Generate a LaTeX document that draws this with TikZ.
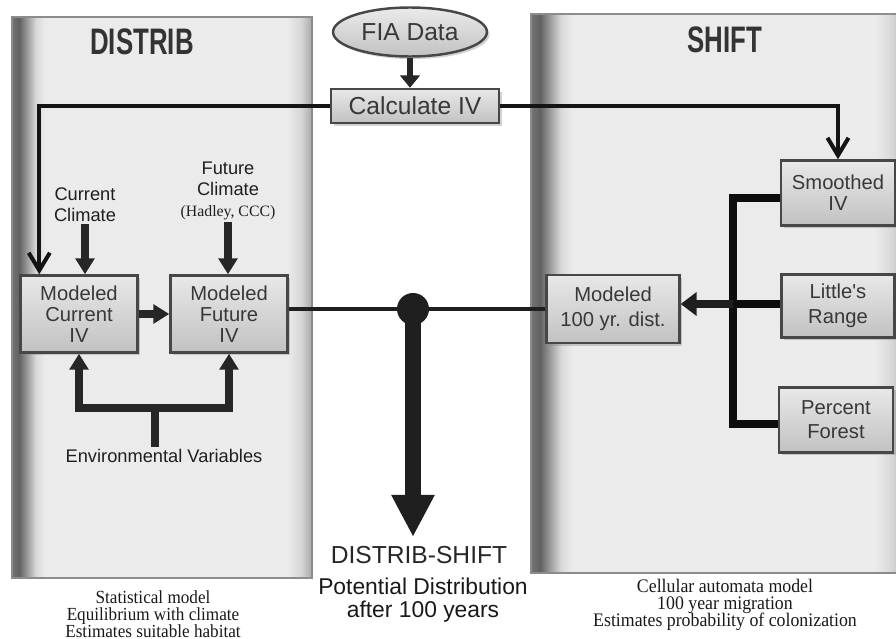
\documentclass[tikz,border=0pt]{standalone}
\usepackage{fontspec}
\setmainfont{Liberation Sans}
\newfontfamily\capfont{Liberation Serif}
\usetikzlibrary{arrows.meta,shapes.geometric,shadows}

\newcommand\tightlines{\lineskiplimit=-20pt\relax}
\pgfdeclarehorizontalshading{panelfill}{100bp}{color(0bp)=(black!55); color(25bp)=(black!55); color(26.2bp)=(black!62); color(27.6bp)=(black!38); color(29bp)=(black!15); color(30.5bp)=(black!8); color(71bp)=(black!8); color(73.2bp)=(black!16); color(75bp)=(black!34); color(100bp)=(black!34)}

\begin{document}
\begin{tikzpicture}[x=0.02cm,y=-0.02cm,
	ivbox/.style={draw=black!72,line width=1.4pt,top color=black!9,bottom color=black!24,text=black!78,align=center,inner sep=1pt,font=\fontsize{11.5}{12}\selectfont,drop shadow={shadow xshift=1.5pt,shadow yshift=-1.5pt,opacity=0.35}},
	textlabel/.style={align=center,inner sep=1pt,text=black!88,font=\fontsize{10.4}{12}\selectfont},
	feed/.style={line width=2.3pt,black!92,-{Straight Barb[width=12pt,length=10pt]}},
	push/.style={line width=4.2pt,black!85,-{Triangle[width=10.5pt,length=9pt]}},
	bracket/.style={line width=4pt,black!95},
	paneltitle/.style={font=\fontsize{21}{21}\selectfont\bfseries,text=black!80,xscale=0.7},
	modelnote/.style={align=center,inner sep=0pt,text=black!90,xscale=0.93}]
	\useasboundingbox (0,0) rectangle (896,639);
	\clip (0,0) rectangle (896,639);
	
	%panels
	\shadedraw[shading=panelfill,draw=black!45,line width=0.6pt] (12,17) rectangle (312,578);
	\shadedraw[shading=panelfill,draw=black!45,line width=0.6pt] (531,14) rectangle (906,573);
	\node[paneltitle] (distribtitle) at (142,42) {DISTRIB};
	\node[paneltitle] (shifttitle) at (725,40) {SHIFT};
	
	%data
	\node[ellipse,draw=black!72,line width=1.4pt,top color=black!8,bottom color=black!24,text=black!78,minimum width=2.88cm,minimum height=0.98cm,font=\fontsize{14}{14}\selectfont,drop shadow={shadow xshift=1.5pt,shadow yshift=-1.5pt,opacity=0.35}] (fia) at (410,32) {FIA Data};
	\node[ivbox,minimum width=3.36cm,minimum height=0.68cm,font=\fontsize{14}{14}\selectfont] (calc) at (415,106) {Calculate IV};
	
	%distrib side
	\node[ivbox,minimum width=2.34cm,minimum height=1.54cm] (cur) at (79,314) {Modeled\\Current\\IV};
	\node[ivbox,minimum width=2.34cm,minimum height=1.54cm] (fut) at (229,314) {Modeled\\Future\\IV};
	\node[textlabel] (curclim) at (85,205) {Current\\Climate};
	\node[textlabel] (futclim) at (228,191) {Future\\Climate\\{\capfont\fontsize{9}{12}\selectfont (Hadley, CCC)}};
	\node[textlabel] (env) at (164,456) {Environmental Variables};
	
	%shift side
	\node[ivbox,minimum width=2.28cm,minimum height=1.3cm] (smooth) at (838,193) {Smoothed\\IV};
	\node[ivbox,minimum width=2.26cm,minimum height=1.26cm] (little) at (838,306) {Little\textquotesingle s\\[2pt]Range};
	\node[ivbox,minimum width=2.28cm,minimum height=1.3cm] (percent) at (836,420) {Percent\\[1.5pt]Forest};
	\node[ivbox,minimum width=2.66cm,minimum height=1.36cm] (hundred) at (613,309) {Modeled\\[2.5pt]100 yr. dist.};
	
	%result
	\node[circle,fill=black!88,inner sep=0pt,minimum size=0.64cm] (dot) at (413,309) {};
	\coordinate (tip) at (413,537);
	\node[anchor=base,inner sep=0pt,text=black!85,font=\fontsize{14}{14}\selectfont] (result) at (419,563) {DISTRIB-SHIFT};
	\node[align=center,inner sep=0pt,text=black!90,font=\fontsize{13}{13.5}\selectfont] (potential) at (423,600) {Potential Distribution\\after 100 years};
	
	%notes
	\node[modelnote,font=\capfont\fontsize{10.5}{9.8}\selectfont\tightlines] (distribnote) at (153,614) {Statistical model\\Equilibrium with climate\\Estimates suitable habitat};
	\node[modelnote,font=\capfont\fontsize{10.9}{9.6}\selectfont\tightlines] (shiftnote) at (725,605) {Cellular automata model\\100 year migration\\Estimates probability of colonization};
	
	%connections
	\draw[line width=3.4pt,black!85,-{Triangle[width=11pt,length=7pt]}] (fia.south) -- (fia.south |- calc.north);
	\draw[feed] (calc.west) -| ([xshift=0.4cm]cur.north west);
	\draw[feed] (calc.east) -| (smooth.north);
	\draw[push] (curclim.south) -- (curclim.south |- cur.north);
	\draw[push] (futclim.south) -- (futclim.south |- fut.north);
	\draw[push] (cur.east) -- (fut.west);
	\coordinate (envsplit) at (155,408);
	\draw[line width=4pt,black!85] (env.north -| envsplit) -- (envsplit);
	\draw[push] (envsplit) -| (cur.south);
	\draw[push] (envsplit) -| (fut.south);
	\draw[line width=2.2pt,black!88] (fut.east |- dot) -- (hundred.west |- dot);
	\draw[line width=9pt,black!88,-{Triangle[width=23pt,length=24pt]}] (dot.center) -- (tip);
	
	%bracket
	\coordinate (btop) at (733,198);
	\coordinate (bmid) at (733,304);
	\coordinate (bbot) at (733,424);
	\draw[bracket] (smooth.west |- btop) -- (btop) -- (bbot) -- (percent.west |- bbot);
	\draw[bracket] (little.west |- bmid) -- (bmid);
	\draw[line width=4pt,black!88,-{Triangle[width=13pt,length=9pt]}] (bmid) -- (hundred.east |- bmid);
\end{tikzpicture}
\end{document}
